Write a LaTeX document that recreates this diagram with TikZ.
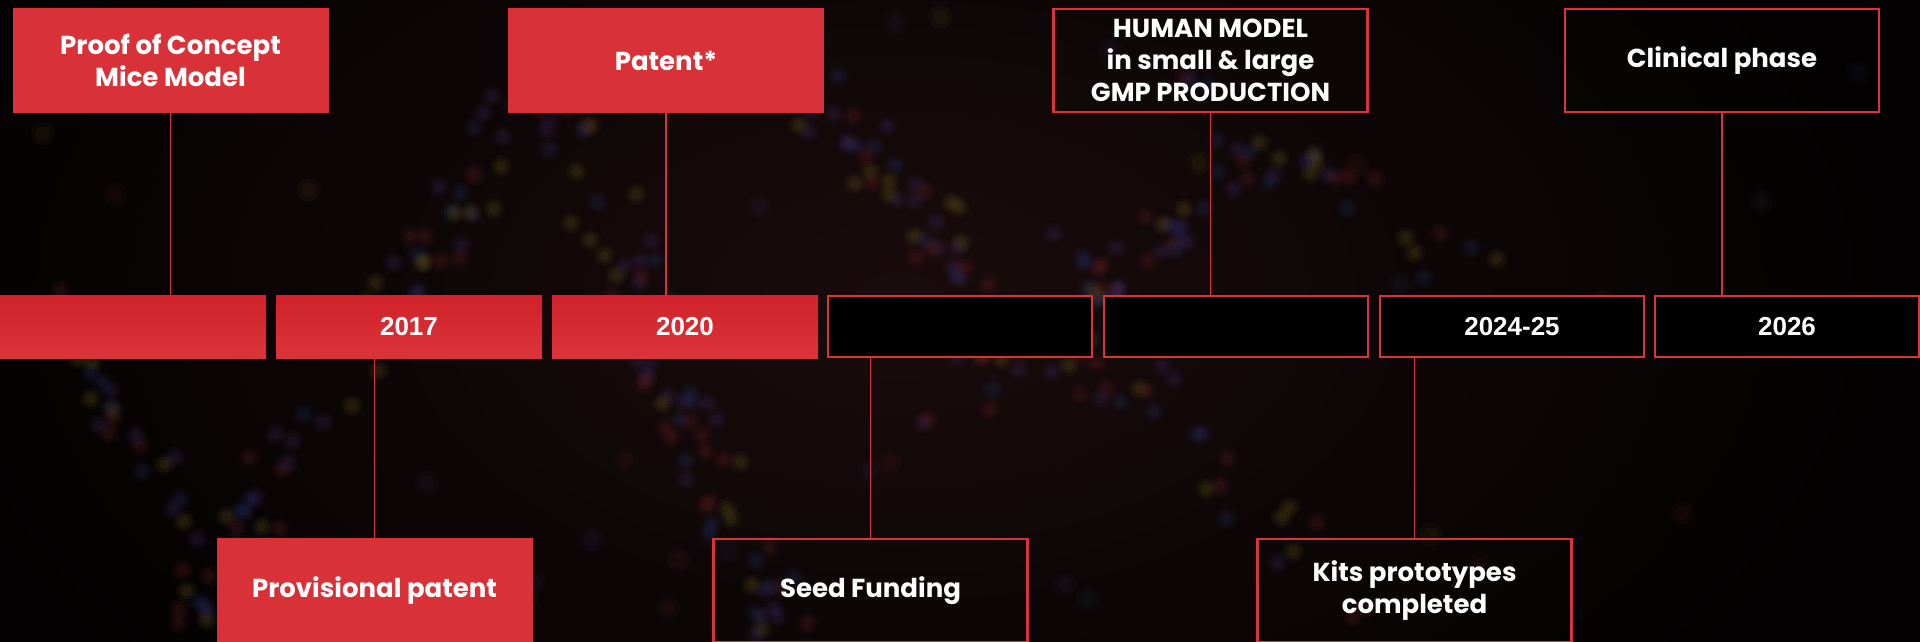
\documentclass[tikz,border=0pt]{standalone}
\usepackage{fontspec}
\newfontfamily\pop{Poppins}
\newfontfamily\yrf{Liberation Sans}
\definecolor{pred}{HTML}{D93138}
\definecolor{ytop}{HTML}{D0222A}
\definecolor{ybot}{HTML}{DA3439}
\definecolor{bord}{HTML}{D8343A}
\definecolor{bgc}{HTML}{030101}
\definecolor{haze}{HTML}{1A0C0C}
\definecolor{dy}{HTML}{6E6222}
\definecolor{dp}{HTML}{44306E}
\definecolor{dr}{HTML}{6E2428}
\definecolor{db}{HTML}{28346E}
\tikzset{
  redbox/.style={fill=pred, minimum width=316pt, minimum height=105pt, inner sep=0pt,
    align=center, text=white, font=\pop\bfseries\fontsize{26}{32}\selectfont},
  linebox/.style={draw=bord, line width=2.2pt, minimum width=314pt, minimum height=103pt, inner sep=0pt,
    align=center, text=white, font=\pop\bfseries\fontsize{26}{32}\selectfont},
  yearred/.style={top color=ytop, bottom color=ybot, draw=none, minimum width=266pt, minimum height=63pt,
    inner sep=0pt, text=white, font=\yrf\bfseries\fontsize{26}{30}\selectfont},
  yearline/.style={fill=black, draw=bord, line width=2.2pt, minimum width=264pt, minimum height=61pt,
    inner sep=0pt, text=white, font=\yrf\bfseries\fontsize{26}{30}\selectfont},
  conn/.style={draw=bord, line width=1.5pt}
}
\begin{document}
\begin{tikzpicture}[x=1pt,y=-1pt]
\useasboundingbox (0,0) rectangle (1920,641);
\clip (-6,-6) rectangle (1926,647);
\fill[bgc] (-6,-6) rectangle (1926,647);
% faint haze
\shade[inner color=haze, outer color=bgc] (900,300) ellipse (1000 and 600);
% faint background bokeh strands
\pgfmathsetseed{11}
\foreach \ax/\ay/\bx/\by/\n in {180/620/560/60/60, 560/90/780/641/75, 780/60/1110/420/65, 930/420/1300/140/55, 1040/240/1360/620/25, 20/300/300/641/25, 1150/60/1500/300/20}{
  \foreach \k in {1,...,\n}{
    \pgfmathsetmacro\t{rnd}
    \pgfmathsetmacro\px{\ax+(\bx-\ax)*\t+(rnd-0.5)*70}
    \pgfmathsetmacro\py{\ay+(\by-\ay)*\t+(rnd-0.5)*40}
    \pgfmathtruncatemacro\cc{mod(\k,4)}
    \ifcase\cc \def\col{dy}\or \def\col{dp}\or \def\col{dr}\or \def\col{db}\fi
    \fill[\col, opacity=0.07] (\px,\py) circle (11);
    \fill[\col, opacity=0.1] (\px,\py) circle (8);
    \fill[\col, opacity=0.12] (\px,\py) circle (5);
  }
}
\foreach \k in {1,...,35}{
  \pgfmathsetmacro\px{rnd*1920}
  \pgfmathsetmacro\py{rnd*641}
  \pgfmathtruncatemacro\cc{mod(\k,4)}
  \ifcase\cc \def\col{dy}\or \def\col{dp}\or \def\col{dr}\or \def\col{db}\fi
  \fill[\col, opacity=0.07] (\px,\py) circle (12);
  \fill[\col, opacity=0.08] (\px,\py) circle (7);
}
% top milestones
\node[redbox]  (t1) at (170.5,60.5) {Proof of Concept\\Mice Model};
\node[redbox]  (t2) at (666,60.5) {Patent*};
\node[linebox] (t3) at (1210.5,60.5) {HUMAN MODEL\\in small \& large\\GMP PRODUCTION};
\node[linebox] (t4) at (1722,60.5) {Clinical phase};
% years
\node[yearred]  (y1) at (128,326.5) [minimum width=276pt] {};
\node[yearred]  (y2) at (409,326.5) {2017};
\node[yearred]  (y3) at (685,326.5) {2020};
\node[yearline] (y4) at (960,326.5) {};
\node[yearline] (y5) at (1236,326.5) {};
\node[yearline] (y6) at (1512,326.5) {2024-25};
\node[yearline] (y7) at (1787,326.5) {2026};
% bottom milestones
\node[redbox]  (b1) at (374.5,590.5) {Provisional patent};
\node[linebox] (b2) at (870.5,590.5) {Seed Funding};
\node[linebox] (b3) at (1414.5,590.5) {Kits prototypes\\completed};
% connectors
\draw[conn] (t1.south) -- (t1.south |- y1.north);
\draw[conn] (t2.south) -- (t2.south |- y3.north);
\draw[conn] (t3.south) -- (t3.south |- y5.north);
\draw[conn] (t4.south) -- (t4.south |- y7.north);
\draw[conn] (b1.north) -- (b1.north |- y2.south);
\draw[conn] (b2.north) -- (b2.north |- y4.south);
\draw[conn] (b3.north) -- (b3.north |- y6.south);
\end{tikzpicture}
\end{document}
